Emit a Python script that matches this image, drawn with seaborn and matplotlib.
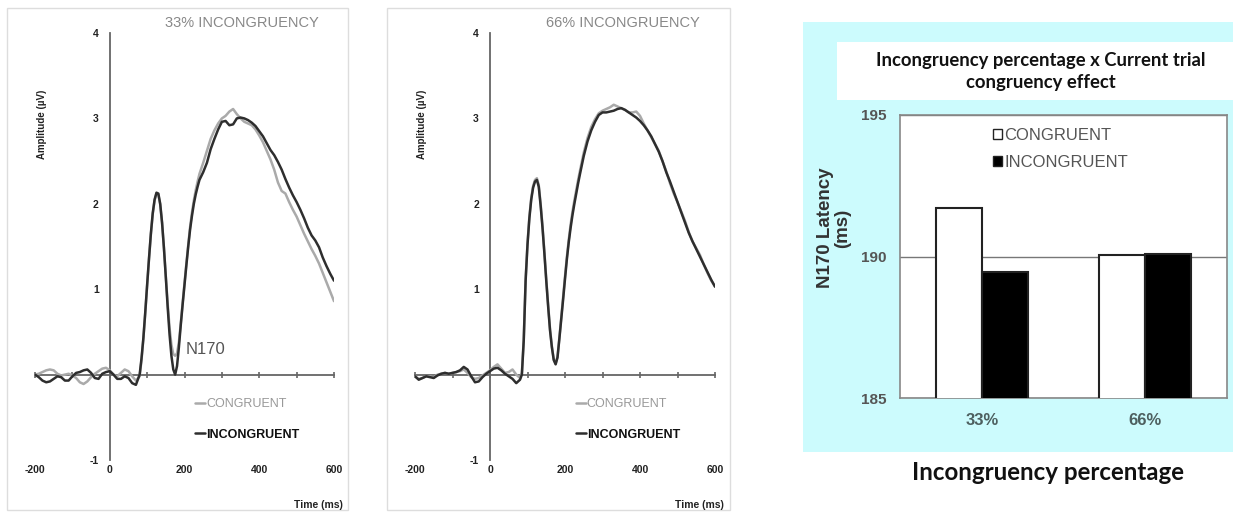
import matplotlib
matplotlib.use("Agg")
import matplotlib.pyplot as plt
import seaborn as sns
import pandas as pd
from matplotlib.lines import Line2D
from matplotlib.patches import Rectangle

# ---------------- data ----------------
time_ms = list(range(-200, 81, 10)) + list(range(85, 241, 5)) + list(range(250, 601, 10))

erp33_congruent = [
    0.00, 0.01, 0.03, 0.05, 0.06, 0.05, 0.01, -0.01, 0.00, 0.01,
    -0.01, -0.04, -0.09, -0.11, -0.08, -0.03, 0.01, 0.04, 0.07, 0.08,
    0.05, 0.00, -0.02, 0.02, 0.06, 0.04, -0.02, -0.07, -0.02,
    0.17, 0.42, 0.72, 1.04, 1.35, 1.64, 1.88, 2.04, 2.12, 2.11,
    1.99, 1.77, 1.48, 1.15, 0.83, 0.55, 0.35, 0.24, 0.22, 0.25,
    0.38, 0.60, 0.84, 1.07, 1.30, 1.52, 1.73, 1.90, 2.04, 2.16,
    2.26, 2.35,
    2.48, 2.62, 2.76, 2.86, 2.94, 3.00, 3.03, 3.08, 3.11, 3.05,
    3.00, 2.96, 2.94, 2.92, 2.87, 2.80, 2.72, 2.62, 2.52, 2.40,
    2.25, 2.15, 2.12, 2.02, 1.93, 1.85, 1.75, 1.65, 1.56, 1.47,
    1.39, 1.30, 1.19, 1.08, 0.97, 0.86,
]
erp33_incongruent = [
    0.00, -0.03, -0.07, -0.09, -0.08, -0.05, -0.02, -0.03, -0.07, -0.07,
    -0.02, 0.02, 0.03, 0.05, 0.06, 0.02, -0.04, -0.05, 0.01, 0.03,
    0.04, 0.00, -0.05, -0.05, -0.02, -0.04, -0.10, -0.12, 0.00,
    0.19, 0.43, 0.73, 1.05, 1.36, 1.65, 1.89, 2.05, 2.13, 2.12,
    2.00, 1.78, 1.48, 1.14, 0.79, 0.47, 0.22, 0.06, 0.00, 0.10,
    0.32, 0.58, 0.82, 1.05, 1.28, 1.50, 1.70, 1.86, 2.00, 2.11,
    2.20, 2.28,
    2.37, 2.48, 2.64, 2.76, 2.87, 2.96, 2.97, 2.92, 2.93, 3.00,
    3.01, 3.00, 2.98, 2.95, 2.91, 2.85, 2.79, 2.71, 2.63, 2.57,
    2.49, 2.40, 2.29, 2.19, 2.10, 2.02, 1.93, 1.83, 1.72, 1.63,
    1.57, 1.49, 1.37, 1.27, 1.18, 1.10,
]
erp66_congruent = [
    -0.02, -0.05, -0.04, -0.02, -0.02, -0.03, 0.00, 0.01, 0.02, 0.01,
    0.02, 0.03, 0.04, 0.06, 0.02, -0.03, -0.05, -0.04, -0.01, 0.02,
    0.05, 0.09, 0.12, 0.07, 0.02, 0.03, 0.06, 0.00, -0.04,
    0.02, 0.42, 1.12, 1.54, 1.85, 2.07, 2.21, 2.28, 2.30, 2.22,
    2.00, 1.74, 1.44, 1.12, 0.82, 0.54, 0.33, 0.18, 0.13, 0.21,
    0.43, 0.67, 0.91, 1.15, 1.38, 1.58, 1.76, 1.91, 2.04, 2.16,
    2.28, 2.39,
    2.60, 2.77, 2.90, 2.99, 3.06, 3.09, 3.11, 3.13, 3.16, 3.14,
    3.12, 3.10, 3.07, 3.07, 3.08, 3.03, 2.94, 2.86, 2.78, 2.70,
    2.62, 2.50, 2.38, 2.24, 2.12, 2.02, 1.91, 1.80, 1.67, 1.56,
    1.48, 1.40, 1.29, 1.19, 1.10, 1.03,
]
erp66_incongruent = [
    -0.02, -0.06, -0.04, -0.02, -0.03, -0.04, -0.01, 0.01, 0.02, 0.01,
    0.02, 0.03, 0.05, 0.09, 0.06, -0.02, -0.09, -0.08, -0.03, 0.01,
    0.04, 0.07, 0.08, 0.05, 0.01, -0.02, -0.05, -0.10, -0.06,
    0.00, 0.40, 1.10, 1.52, 1.83, 2.05, 2.19, 2.26, 2.28, 2.20,
    1.98, 1.72, 1.42, 1.10, 0.80, 0.52, 0.32, 0.17, 0.12, 0.20,
    0.42, 0.65, 0.88, 1.12, 1.35, 1.55, 1.72, 1.87, 2.00, 2.12,
    2.24, 2.35,
    2.56, 2.73, 2.86, 2.96, 3.04, 3.07, 3.07, 3.08, 3.09, 3.11,
    3.12, 3.10, 3.07, 3.04, 3.01, 2.97, 2.92, 2.86, 2.79, 2.70,
    2.61, 2.50, 2.37, 2.26, 2.14, 2.02, 1.90, 1.78, 1.66, 1.56,
    1.47, 1.38, 1.29, 1.20, 1.11, 1.03,
]

erp_x_ticks = [-200, 0, 200, 400, 600]
erp_y_ticks = [-1, 0, 1, 2, 3, 4]
erp_y_labels = ["-1", "", "1", "2", "3", "4"]

bar_categories = ["33%", "66%"]
bar_congruent = [191.7, 190.05]
bar_incongruent = [189.45, 190.1]
bar_y_ticks = [185, 190, 195]

conditions = ["CONGRUENT", "INCONGRUENT"]
line_colors = {"CONGRUENT": "#aaaaaa", "INCONGRUENT": "#2e2e2e"}
bar_colors = {"CONGRUENT": "white", "INCONGRUENT": "black"}

# ---------------- figure ----------------
sns.set_style("white")
plt.rcParams["font.family"] = ["Liberation Sans", "DejaVu Sans"]

W, H = 1233, 516
fig = plt.figure(figsize=(W / 100, H / 100), dpi=100)
fig.patch.set_facecolor("white")


def fx(px):
    return px / W


def fy(py):
    return 1 - py / H


# panel frames
for x0, x1 in [(7, 348), (387, 730)]:
    fig.patches.append(Rectangle((fx(x0), fy(510)), fx(x1) - fx(x0), fy(8) - fy(510),
                                 transform=fig.transFigure, fill=False,
                                 edgecolor="#dddddd", lw=1.0, zorder=-5))

# cyan background + white title box for bar chart
fig.patches.append(Rectangle((fx(803), fy(452)), fx(1233) - fx(803), fy(22) - fy(452),
                             transform=fig.transFigure, facecolor="#ccfbfd",
                             edgecolor="none", zorder=-10))
fig.patches.append(Rectangle((fx(837), fy(100)), fx(1233) - fx(837), fy(42) - fy(100),
                             transform=fig.transFigure, facecolor="white",
                             edgecolor="none", zorder=-9))

panels = [
    (35, 334, "33% INCONGRUENCY", erp33_congruent, erp33_incongruent, True),
    (415, 715, "66% INCONGRUENCY", erp66_congruent, erp66_incongruent, False),
]

for left_px, right_px, title, cong, incong, show_n170 in panels:
    ax = fig.add_axes([fx(left_px), fy(460), fx(right_px) - fx(left_px), fy(33) - fy(460)])
    ax.set_facecolor("none")
    df = pd.DataFrame({
        "time": time_ms * 2,
        "amp": cong + incong,
        "cond": ["CONGRUENT"] * len(time_ms) + ["INCONGRUENT"] * len(time_ms),
    })
    sns.lineplot(data=df, x="time", y="amp", hue="cond", hue_order=conditions,
                 palette=line_colors, estimator=None, legend=False, ax=ax,
                 linewidth=1.8)
    ax.set_xlim(-200, 600)
    ax.set_ylim(-1, 4)

    for s in ["right", "bottom"]:
        ax.spines[s].set_visible(False)
    ax.spines["left"].set_position(("data", 0))
    ax.spines["top"].set_position(("data", 0))
    for s in ["left", "top"]:
        ax.spines[s].set_color("#666666")
        ax.spines[s].set_linewidth(1.3)
        ax.spines[s].set_zorder(0.5)

    ax.set_xticks(erp_x_ticks)
    ax.set_xticks([-100, 100, 300, 500], minor=True)
    ax.tick_params(axis="x", which="both", bottom=False, top=True, labelbottom=True,
                   labeltop=False, direction="inout", length=5, width=1.2,
                   color="#666666", pad=1)
    ax.set_xticklabels([str(t) for t in erp_x_ticks], fontsize=7.5,
                       fontweight="bold", color="#222222")
    ax.set_yticks(erp_y_ticks)
    ax.set_yticklabels(erp_y_labels, fontsize=7.5, fontweight="bold", color="#222222")
    ax.tick_params(axis="y", direction="out", length=4, width=1.2, color="#666666", pad=4)

    ax.set_ylabel("Amplitude (µV)", fontsize=7, fontweight="bold", color="#222222")
    ax.yaxis.set_label_coords(0.04, 0.785)
    ax.set_xlabel("Time (ms)", fontsize=7.5, fontweight="bold", color="#222222",
                  ha="right")
    ax.xaxis.set_label_coords(1.03, -0.094)

    ax.text(0.692, 1.023, title, transform=ax.transAxes, ha="center", va="center",
            fontsize=10.5, color="#888888")
    if show_n170:
        ax.text(0.569, 0.258, "N170", transform=ax.transAxes, ha="center",
                va="center", fontsize=12, color="#555555")

    handles = [Line2D([], [], color=line_colors[c], lw=1.8) for c in conditions]
    leg = ax.legend(handles, conditions, loc="upper left", bbox_to_anchor=(0.535, 0.145),
                    frameon=False, handlelength=0.8, handletextpad=0.1,
                    labelspacing=1.5, borderpad=0, borderaxespad=0, fontsize=9)
    leg.get_texts()[0].set_color("#999999")
    leg.get_texts()[1].set_color("#111111")
    leg.get_texts()[1].set_fontweight("bold")

# ---------------- bar chart ----------------
ax3 = fig.add_axes([fx(900), fy(398), fx(1227) - fx(900), fy(115) - fy(398)])
ax3.set_facecolor("white")
bdf = pd.DataFrame({
    "pct": bar_categories * 2,
    "latency": bar_congruent + bar_incongruent,
    "cond": ["CONGRUENT"] * len(bar_categories) + ["INCONGRUENT"] * len(bar_categories),
})
sns.barplot(data=bdf, x="pct", y="latency", hue="cond", hue_order=conditions,
            order=bar_categories, palette=bar_colors, edgecolor="#222222",
            linewidth=1.5, width=0.56, ax=ax3, zorder=3)
ax3.set_ylim(185, 195)
ax3.set_xlim(-0.5, 1.5)
ax3.set_yticks(bar_y_ticks)
ax3.set_yticklabels([str(v) for v in bar_y_ticks], fontsize=11, fontweight="bold",
                    color="#555555")
ax3.tick_params(axis="y", direction="out", length=4, width=1, color="#888888", pad=6)
ax3.set_xticks([0, 1])
ax3.set_xticklabels(bar_categories, fontsize=12, fontweight="bold", color="#4d5f5f")
ax3.set_xticks([-0.5, 0.5, 1.5], minor=True)
ax3.tick_params(axis="x", which="major", length=0, pad=11)
ax3.tick_params(axis="x", which="minor", direction="out", length=4, width=1,
                color="#888888")
ax3.yaxis.grid(True, color="#777777", lw=1.0, zorder=0)
ax3.set_axisbelow(True)
for s in ax3.spines.values():
    s.set_visible(True)
    s.set_color("#888888")
    s.set_linewidth(1.2)
ax3.set_xlabel("")
ax3.set_ylabel("N170 Latency\n(ms)", fontsize=13.5, fontweight="bold", color="#333333",
               linespacing=1.0)
ax3.yaxis.set_label_coords(-0.15, 0.60)

bhandles = [Rectangle((0, 0), 1, 1, facecolor=bar_colors[c], edgecolor="#222222", lw=1)
            for c in conditions]
bleg = ax3.legend(bhandles, conditions, loc="upper left", bbox_to_anchor=(0.283, 0.955),
                  frameon=False, handlelength=0.55, handleheight=0.55, handletextpad=0.15,
                  labelspacing=0.75, borderpad=0, borderaxespad=0, fontsize=12)
for t in bleg.get_texts():
    t.set_color("#555555")

fig.text(fx(1041), fy(71.5), "Incongruency percentage x Current trial\ncongruency effect",
         ha="center", va="center", fontsize=13.3, fontweight="bold",
         family=["Lato", "DejaVu Sans"], linespacing=1.3, color="#111111")
fig.text(fx(1048), fy(472), "Incongruency percentage", ha="center", va="center",
         fontsize=17.4, fontweight="bold", family=["Lato", "DejaVu Sans"],
         color="#111111")

fig.savefig("out.png", dpi=100)
